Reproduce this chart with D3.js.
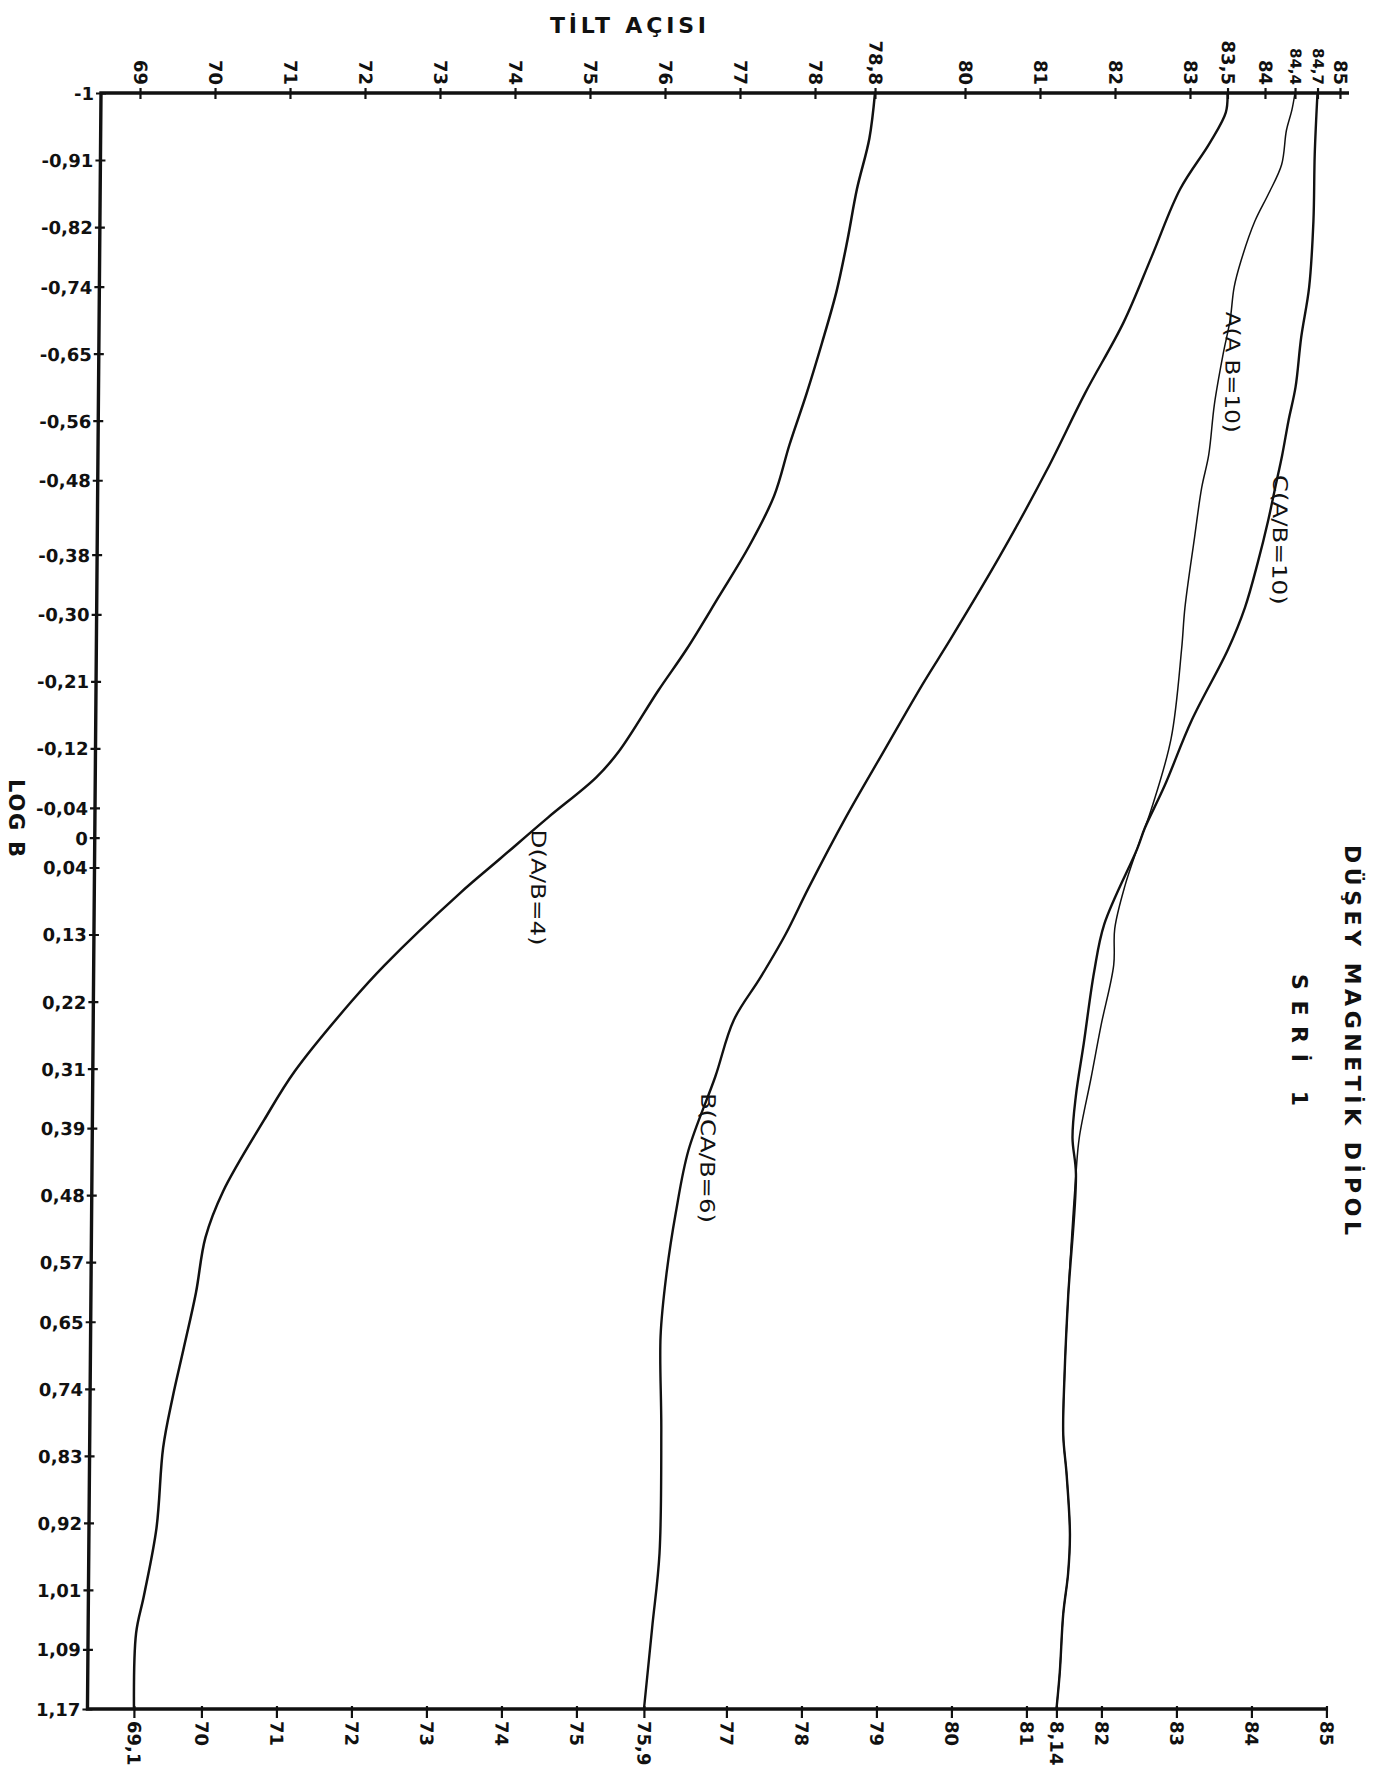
<!DOCTYPE html>
<html>
<head>
<meta charset="utf-8">
<script src="https://cdn.jsdelivr.net/npm/d3@7"></script>
<style>
  html, body { margin: 0; padding: 0; background: #ffffff; }
  svg { display: block; }
  text { fill: #111; font-family: "DejaVu Sans", "Liberation Sans", sans-serif; }
</style>
</head>
<body>
<script>
// ---- Axis ticks -----------------------------------------------------------
const logBTicks = [-1, -0.91, -0.82, -0.74, -0.65, -0.56, -0.48, -0.38, -0.30, -0.21, -0.12, -0.04, 0,
  0.04, 0.13, 0.22, 0.31, 0.39, 0.48, 0.57, 0.65, 0.74, 0.83, 0.92, 1.01, 1.09, 1.17];
const logBTickLabels = ["-1", "-0,91", "-0,82", "-0,74", "-0,65", "-0,56", "-0,48", "-0,38", "-0,30", "-0,21",
  "-0,12", "-0,04", "0", "0,04", "0,13", "0,22", "0,31", "0,39", "0,48", "0,57", "0,65", "0,74", "0,83",
  "0,92", "1,01", "1,09", "1,17"];

const topTicks = [69, 70, 71, 72, 73, 74, 75, 76, 77, 78, 78.8, 80, 81, 82, 83, 83.5, 84, 84.4, 84.7, 85];
const topTickLabels = ["69", "70", "71", "72", "73", "74", "75", "76", "77", "78", "78,8", "80", "81", "82",
  "83", "83,5", "84", "84,4", "84,7", "85"];

const bottomTicks = [69.1, 70, 71, 72, 73, 74, 75, 75.9, 77, 78, 79, 80, 81, 81.4, 82, 83, 84, 85];
const bottomTickLabels = ["69,1", "70", "71", "72", "73", "74", "75", "75,9", "77", "78", "79", "80", "81",
  "8,14", "82", "83", "84", "85"];

// ---- Curves: [log B, tilt angle] ------------------------------------------
const curveD = [
  [-1, 78.8], [-0.939, 78.73], [-0.871, 78.57], [-0.803, 78.45], [-0.734, 78.31], [-0.664, 78.12],
  [-0.596, 77.92], [-0.528, 77.70], [-0.459, 77.50], [-0.391, 77.17], [-0.323, 76.77], [-0.253, 76.35],
  [-0.198, 75.98], [-0.116, 75.46], [-0.081, 75.16], [-0.027, 74.52], [0.028, 73.89], [0.075, 73.35],
  [0.171, 72.36], [0.22, 71.92], [0.314, 71.17], [0.379, 70.77], [0.475, 70.23], [0.537, 70.0],
  [0.611, 69.88], [0.687, 69.72], [0.752, 69.58], [0.819, 69.46], [0.927, 69.38], [1.018, 69.22],
  [1.068, 69.12], [1.17, 69.1]
];

const curveB = [
  [-1, 83.5], [-0.974, 83.48], [-0.933, 83.27], [-0.871, 82.88], [-0.781, 82.51], [-0.692, 82.14],
  [-0.596, 81.63], [-0.493, 81.13], [-0.377, 80.51], [-0.267, 79.87], [-0.206, 79.50], [-0.116, 78.99],
  [-0.027, 78.49], [0.068, 78.0], [0.13, 77.7], [0.188, 77.37], [0.245, 77.02], [0.321, 76.78],
  [0.420, 76.43], [0.503, 76.27], [0.587, 76.15], [0.669, 76.08], [0.795, 76.10], [0.961, 76.09],
  [1.061, 76.0], [1.17, 75.9]
];

const curveAHead = [
  [-1, 84.4], [-0.977, 84.36], [-0.95, 84.29], [-0.904, 84.23], [-0.865, 84.06], [-0.828, 83.88],
  [-0.775, 83.70], [-0.739, 83.61], [-0.695, 83.56], [-0.649, 83.47], [-0.582, 83.36], [-0.514, 83.29],
  [-0.470, 83.20], [-0.403, 83.11], [-0.309, 82.99], [-0.253, 82.95], [-0.133, 82.82], [-0.037, 82.56],
  [0.015, 82.38], [0.065, 82.22], [0.122, 82.09], [0.171, 82.08], [0.251, 81.92], [0.323, 81.79],
  [0.403, 81.64]
];

const curveCHead = [
  [-1, 84.7], [-0.918, 84.67], [-0.828, 84.66], [-0.739, 84.61], [-0.672, 84.51], [-0.605, 84.44],
  [-0.560, 84.35], [-0.514, 84.27], [-0.470, 84.18], [-0.426, 84.09], [-0.371, 83.96], [-0.309, 83.79],
  [-0.253, 83.57], [-0.157, 83.09], [-0.070, 82.74], [-0.013, 82.48], [0.015, 82.38], [0.116, 81.95],
  [0.180, 81.82], [0.276, 81.69], [0.347, 81.59], [0.403, 81.55]
];

// A and C merge into one trace below log B ≈ 0.45
const curveACTail = [
  [0.452, 81.6], [0.616, 81.51], [0.723, 81.47], [0.802, 81.46], [0.856, 81.51], [0.935, 81.56],
  [0.988, 81.54], [1.042, 81.48], [1.121, 81.44], [1.17, 81.4]
];

const seriesNames = ["D(A/B=4)", "B(CA/B=6)", "A(A B=10)", "C(A/B=10)"];
// label anchor for each curve: [log B, tilt]
const labelAnchors = [[0.067, 74.40], [0.430, 76.69], [-0.625, 83.60], [-0.400, 84.25]];

// ---- Layout --------------------------------------------------------------
const W = 1381, H = 1770;
const plotTop = 93, plotBottom = 1709;
const x = d3.scaleLinear().domain([69, 85]).range([140, 1340]);
const y = d3.scaleLinear().domain([-1, 1.17]).range([plotTop, plotBottom]);
const xLeft = x(68.48);
const tickFont = "DejaVu Sans";

const svg = d3.select("body").append("svg")
  .attr("width", W).attr("height", H)
  .attr("viewBox", `0 0 ${W} ${H}`);

// the hand-drawn frame leans slightly to the left towards the bottom
const g = svg.append("g")
  .attr("transform", `translate(0,${plotTop}) skewX(-0.48) translate(0,${-plotTop})`);

// ---- Axes ----------------------------------------------------------------
const leftAxis = d3.axisLeft(y).tickValues(logBTicks)
  .tickFormat((d, i) => logBTickLabels[i]).tickSize(0).tickPadding(7);
const gl = g.append("g").attr("transform", `translate(${xLeft},0)`).call(leftAxis);
gl.select(".domain").remove();
gl.selectAll(".tick line").attr("x1", -5).attr("x2", 5)
  .attr("stroke", "#111").attr("stroke-width", 2.2);
gl.selectAll(".tick text").attr("font-size", 18).attr("font-family", tickFont)
  .attr("font-weight", "bold").attr("fill", "#111").attr("dy", "0.36em");

const topAxis = d3.axisTop(x).tickValues(topTicks)
  .tickFormat((d, i) => topTickLabels[i]).tickSize(0);
const gt = g.append("g").attr("transform", `translate(0,${plotTop})`).call(topAxis);
gt.select(".domain").remove();
gt.selectAll(".tick line").attr("y1", -5).attr("y2", 6)
  .attr("stroke", "#111").attr("stroke-width", 2.2);
gt.selectAll(".tick text")
  .attr("transform", "rotate(90)")
  .attr("x", -8).attr("y", 0).attr("dy", "0.36em")
  .attr("text-anchor", "end")
  .attr("font-size", d => (d > 84.2 && d < 84.9) ? 15 : 18)
  .attr("font-family", tickFont).attr("font-weight", "bold").attr("fill", "#111");

const bottomAxis = d3.axisBottom(x).tickValues(bottomTicks)
  .tickFormat((d, i) => bottomTickLabels[i]).tickSize(0);
const gb = g.append("g").attr("transform", `translate(0,${plotBottom})`).call(bottomAxis);
gb.select(".domain").remove();
gb.selectAll(".tick line").attr("y1", -3).attr("y2", 9)
  .attr("stroke", "#111").attr("stroke-width", 2.2);
gb.selectAll(".tick text")
  .attr("transform", "rotate(90)")
  .attr("x", 12).attr("y", 0).attr("dy", "0.36em")
  .attr("text-anchor", "start")
  .attr("font-size", 18).attr("font-family", tickFont).attr("font-weight", "bold").attr("fill", "#111");

// frame lines (top, left, bottom)
g.append("path")
  .attr("d", `M${x(85.12)},${plotTop} H${xLeft} V${plotBottom} H${x(85)}`)
  .attr("fill", "none").attr("stroke", "#111").attr("stroke-width", 3.4)
  .attr("stroke-linejoin", "miter");

// ---- Curves --------------------------------------------------------------
const line = d3.line()
  .x(d => x(d[1]))
  .y(d => y(d[0]))
  .curve(d3.curveCatmullRom.alpha(0.5));

const curves = [
  { data: curveD, width: 2.5 },
  { data: curveB, width: 2.4 },
  { data: curveAHead.concat(curveACTail), width: 1.5 },
  { data: curveCHead.concat(curveACTail), width: 2.4 }
];

g.append("g").selectAll("path").data(curves).join("path")
  .attr("d", c => line(c.data))
  .attr("fill", "none").attr("stroke", "#111")
  .attr("stroke-width", c => c.width)
  .attr("stroke-linecap", "round").attr("stroke-linejoin", "round");

// curve labels, written along the curves
const labelLengths = [116, 130, 121, 130];
g.append("g").selectAll("text").data(seriesNames).join("text")
  .attr("transform", (d, i) => `translate(${x(labelAnchors[i][1])},${y(labelAnchors[i][0])}) rotate(90)`)
  .attr("text-anchor", "middle").attr("dy", "0.36em")
  .attr("font-size", 20).attr("font-family", "DejaVu Sans Condensed, DejaVu Sans")
  .attr("textLength", (d, i) => labelLengths[i]).attr("lengthAdjust", "spacingAndGlyphs")
  .text(d => d);

// ---- Titles --------------------------------------------------------------
const titleFont = "DejaVu Sans Condensed, DejaVu Sans";
svg.append("text")
  .attr("x", 628).attr("y", 33)
  .attr("text-anchor", "middle")
  .attr("font-size", 22).attr("font-family", titleFont).attr("font-weight", "600")
  .attr("textLength", 156).attr("lengthAdjust", "spacing")
  .text("TİLT  AÇISI");

svg.append("text")
  .attr("transform", "translate(17,818) rotate(90)")
  .attr("text-anchor", "middle").attr("dy", "0.36em")
  .attr("font-size", 21).attr("font-family", titleFont).attr("font-weight", "600")
  .attr("textLength", 78).attr("lengthAdjust", "spacing")
  .text("LOG B");

svg.append("text")
  .attr("transform", "translate(1353,1040) rotate(90)")
  .attr("text-anchor", "middle").attr("dy", "0.36em")
  .attr("font-size", 22).attr("font-family", titleFont).attr("font-weight", "600")
  .attr("textLength", 390).attr("lengthAdjust", "spacing")
  .text("DÜŞEY  MAGNETİK  DİPOL");

svg.append("text")
  .attr("transform", "translate(1300,1040) rotate(90)")
  .attr("text-anchor", "middle").attr("dy", "0.36em")
  .attr("font-size", 22).attr("font-family", titleFont).attr("font-weight", "600")
  .attr("textLength", 132).attr("lengthAdjust", "spacing")
  .text("SERİ  1");
</script>
</body>
</html>
